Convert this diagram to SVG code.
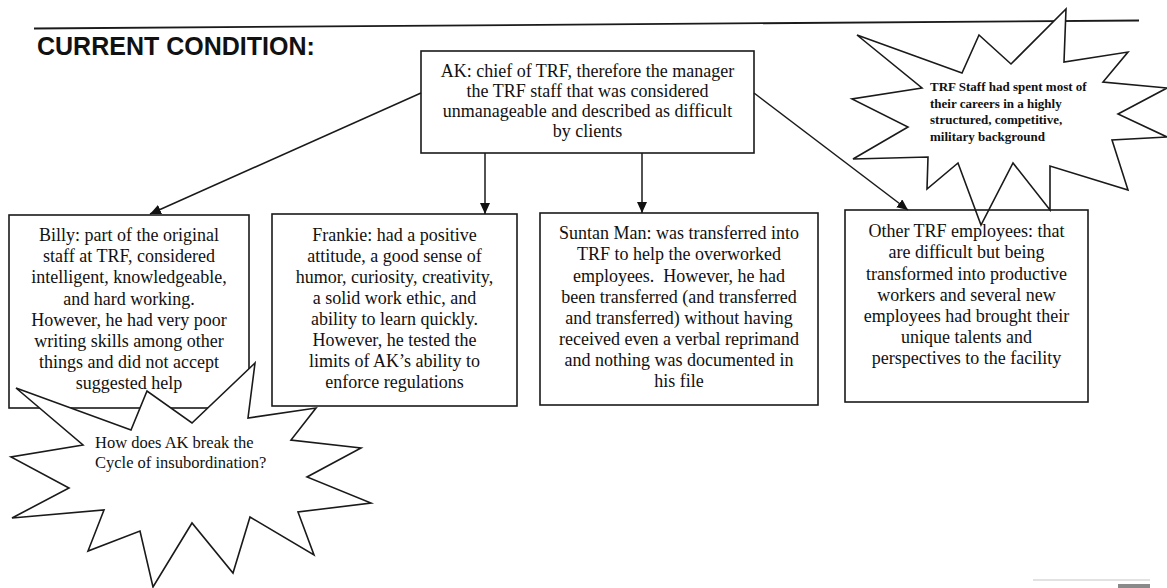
<svg xmlns="http://www.w3.org/2000/svg" width="1167" height="588" viewBox="0 0 1167 588">
<style>
.box{fill:#fff;stroke:#1a1a1a;stroke-width:1.6}
.boxn{fill:none;stroke:#1a1a1a;stroke-width:1.6}
.burst{fill:#fff;stroke:#1a1a1a;stroke-width:1.6;stroke-linejoin:miter}
.t{font-family:"Liberation Serif","Times New Roman",serif;font-size:18px;fill:#111;text-anchor:middle}
.bt{font-family:"Liberation Serif","Times New Roman",serif;font-size:16.5px;fill:#111}
.st{font-family:"Liberation Serif","Times New Roman",serif;font-size:13px;font-weight:bold;fill:#111}
.title{font-family:"Liberation Sans",Arial,sans-serif;font-size:25px;font-weight:bold;fill:#111}
.conn{stroke:#1a1a1a;stroke-width:1.5;fill:none;marker-end:url(#ah)}
</style>
<defs>
<marker id="ah" markerWidth="12" markerHeight="10" refX="11" refY="5" orient="auto" markerUnits="userSpaceOnUse">
<path d="M0,0 L11,5 L0,10 z" fill="#111"/>
</marker>
</defs>
<rect width="1167" height="588" fill="#fff"/>
<line x1="34" y1="28.5" x2="1139" y2="20.5" stroke="#1a1a1a" stroke-width="1.8"/>
<text class="title" x="37" y="55">CURRENT CONDITION:</text>

<g id="ak">
<rect class="box" x="421" y="51" width="333" height="102"/>
<text class="t" x="587.5" y="77">AK: chief of TRF, therefore the manager</text>
<text class="t" x="587.5" y="97">the TRF staff that was considered</text>
<text class="t" x="587.5" y="117">unmanageable and described as difficult</text>
<text class="t" x="587.5" y="137">by clients</text>
</g>

<g id="billy">
<rect class="box" x="9" y="215" width="240" height="193"/>
<text class="t" x="129" y="241">Billy: part of the original</text>
<text class="t" x="129" y="262">staff at TRF, considered</text>
<text class="t" x="129" y="283">intelligent, knowledgeable,</text>
<text class="t" x="129" y="304.5">and hard working.</text>
<text class="t" x="129" y="325.5">However, he had very poor</text>
<text class="t" x="129" y="346.5">writing skills among other</text>
<text class="t" x="129" y="368">things and did not accept</text>
<text class="t" x="129" y="389">suggested help</text>
</g>

<g id="frankie">
<rect class="box" x="272" y="214" width="245" height="192"/>
<text class="t" x="394.5" y="241">Frankie: had a positive</text>
<text class="t" x="394.5" y="262">attitude, a good sense of</text>
<text class="t" x="394.5" y="283">humor, curiosity, creativity,</text>
<text class="t" x="394.5" y="304">a solid work ethic, and</text>
<text class="t" x="394.5" y="325">ability to learn quickly.</text>
<text class="t" x="394.5" y="346">However, he tested the</text>
<text class="t" x="394.5" y="367">limits of AK’s ability to</text>
<text class="t" x="394.5" y="388">enforce regulations</text>
</g>

<g id="suntan">
<rect class="box" x="540" y="213" width="278" height="192"/>
<text class="t" x="679" y="239">Suntan Man: was transferred into</text>
<text class="t" x="679" y="260">TRF to help the overworked</text>
<text class="t" x="679" y="281.5" xml:space="preserve">employees.  However, he had</text>
<text class="t" x="679" y="302.5">been transferred (and transferred</text>
<text class="t" x="679" y="323.5">and transferred) without having</text>
<text class="t" x="679" y="345">received even a verbal reprimand</text>
<text class="t" x="679" y="366">and nothing was documented in</text>
<text class="t" x="679" y="387">his file</text>
</g>

<g id="staff-burst">
<polygon class="burst" points="857,35 962,73 979,35 1011,64 1066,9 1064,62 1128,52 1103,82 1167,88 1118,114 1167,137 1112,140 1128,190 1050,166 1050,210 1013,163 981,225 958,163 927,189 928,157 853,159 908,127 852,99 922,88"/>
<text class="st" x="930" y="91">TRF Staff had spent most of</text>
<text class="st" x="930" y="107.5">their careers in a highly</text>
<text class="st" x="930" y="124">structured, competitive,</text>
<text class="st" x="930" y="140.5">military background</text>
</g>

<g id="other">
<rect class="boxn" x="845" y="210" width="243" height="192"/>
<text class="t" x="966.5" y="237">Other TRF employees: that</text>
<text class="t" x="966.5" y="258">are difficult but being</text>
<text class="t" x="966.5" y="279.5">transformed into productive</text>
<text class="t" x="966.5" y="300.5">workers and several new</text>
<text class="t" x="966.5" y="321.5">employees had brought their</text>
<text class="t" x="966.5" y="343">unique talents and</text>
<text class="t" x="966.5" y="364">perspectives to the facility</text>
</g>

<g id="question-burst">
<polygon class="burst" points="16,388 131,430 147,391 192,423 255,363 248,418 316,408 291,440 361,448 307,477 371,503 298,512 314,555 250,517 233,573 192,523 153,587 140,531 88,551 104,510 12,518 69,488 11,457 83,445"/>
<text class="bt" x="95" y="448">How does AK break the</text>
<text class="bt" x="95" y="468">Cycle of insubordination?</text>
</g>

<g id="connectors">
<path class="conn" d="M421,93 L150,214"/>
<path class="conn" d="M485,153 L485,214"/>
<path class="conn" d="M642,153 L642,213"/>
<path class="conn" d="M754,93 L908,210"/>
</g>

<line x1="1033" y1="580" x2="1150" y2="580" stroke="#e2e2e2" stroke-width="2"/>
<rect x="1118" y="584" width="32" height="4" fill="#8a8a8a"/>
</svg>
